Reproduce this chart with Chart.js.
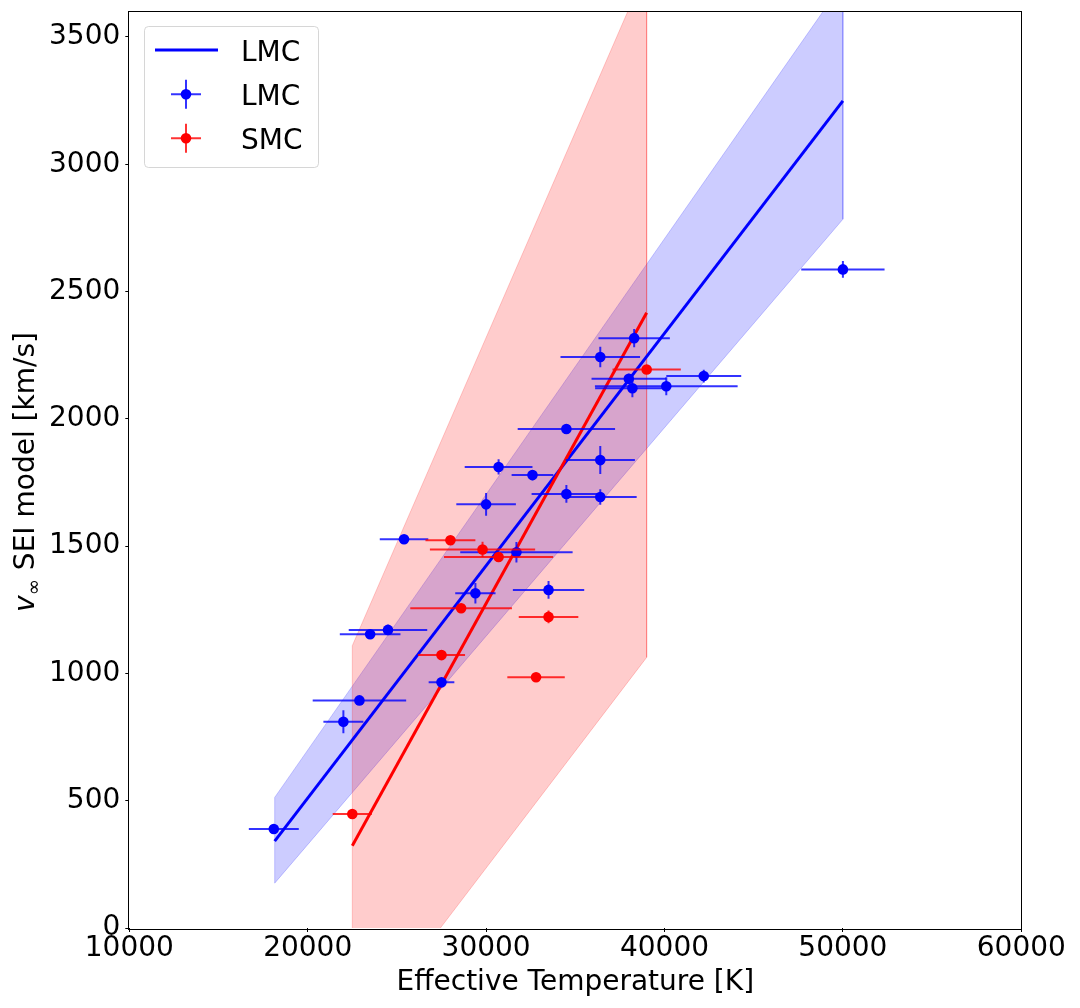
<!DOCTYPE html>
<html>
<head>
<meta charset="utf-8">
<script src="https://cdn.jsdelivr.net/npm/chart.js@4.4.1/dist/chart.umd.min.js"></script>
<style>
  html, body { margin: 0; padding: 0; background: #fff; }
  #wrap { width: 1080px; height: 1008px; position: relative; }
</style>
</head>
<body>
<div id="wrap"><canvas id="vinfChart"></canvas></div>
<script>
// LMC stars: Teff [K], v_inf [km/s] and their errors
var lmcTemp    = [18100, 22000, 22900, 23500, 24500, 25400, 27500, 29400, 30000, 30700, 31700, 32600,
                  33500, 34500, 34500, 36400, 36400, 36400, 38000, 38200, 38300, 40100, 42200, 50000];
var lmcVinf    = [389, 810, 894, 1154, 1171, 1527, 965, 1315, 1664, 1811, 1476, 1779,
                  1328, 1960, 1705, 2243, 1838, 1693, 2157, 2120, 2317, 2128, 2168, 2587];
var lmcTempErr = [1400, 1120, 2620, 1700, 2200, 1360, 720, 1130, 1670, 1900, 3150, 1170,
                  2000, 2730, 1950, 2230, 1940, 2040, 2090, 2090, 2000, 4000, 2100, 2335];
var lmcVinfErr = [15, 45, 15, 15, 20, 15, 15, 40, 45, 30, 40, 20,
                  35, 20, 35, 40, 55, 30, 20, 35, 36, 35, 25, 33];

// SMC stars
var smcTemp    = [22500, 27500, 28000, 28600, 29800, 30700, 32800, 33500, 39000];
var smcVinf    = [448, 1072, 1523, 1256, 1487, 1457, 985, 1222, 2194];
var smcTempErr = [1100, 1320, 1400, 2850, 2950, 3060, 1610, 1670, 1915];
var smcVinfErr = [15, 15, 15, 15, 30, 15, 15, 25, 15];

// linear fits and their uncertainty bands
var lmcFitTemp   = [18150, 50000];
var lmcFitVinf   = [341, 3249];
var lmcBandUpper = [513, 3712];
var lmcBandLower = [176, 2784];
var smcFitTemp   = [22500, 39000];
var smcFitVinf   = [323, 2417];
var smcBandUpper = [1109, 3771];
var smcBandLower = [-454, 1063];

var xTicks = [10000, 20000, 30000, 40000, 50000, 60000];
var yTicks = [0, 500, 1000, 1500, 2000, 2500, 3000, 3500];
var legendLabels = ['LMC', 'LMC', 'SMC'];

var FONT = '"DejaVu Sans", sans-serif';

function toPoints(xs, ys) {
  return xs.map(function(x, i) { return {x: x, y: ys[i]}; });
}
function bandPolygon(xs, upper, lower) {
  var top = toPoints(xs, upper);
  var bottom = toPoints(xs, lower).reverse();
  return top.concat(bottom, [top[0]]);
}

var errorBarPlugin = {
  id: 'errorBars',
  beforeDatasetDraw: function(chart, args) {
    var ds = chart.data.datasets[args.index];
    if (!ds.errX) return;
    var ctx = chart.ctx, xs = chart.scales.x, ys = chart.scales.y;
    ctx.save();
    ctx.strokeStyle = ds.errColor;
    ctx.lineWidth = 2;
    ds.data.forEach(function(p, i) {
      var px = xs.getPixelForValue(p.x), py = ys.getPixelForValue(p.y);
      ctx.beginPath();
      ctx.moveTo(xs.getPixelForValue(p.x - ds.errX[i]), py);
      ctx.lineTo(xs.getPixelForValue(p.x + ds.errX[i]), py);
      ctx.moveTo(px, ys.getPixelForValue(p.y - ds.errY[i]));
      ctx.lineTo(px, ys.getPixelForValue(p.y + ds.errY[i]));
      ctx.stroke();
    });
    ctx.restore();
  }
};

var framePlugin = {
  id: 'frameAndLabels',
  afterDraw: function(chart) {
    var ctx = chart.ctx, a = chart.chartArea;
    ctx.save();
    // axes box
    ctx.strokeStyle = '#000';
    ctx.lineWidth = 1;
    ctx.strokeRect(Math.round(a.left) - 0.5, Math.round(a.top) - 0.5,
                   Math.round(a.right - a.left) + 1, Math.round(a.bottom - a.top) + 1);

    // y axis title with italic v and subscript infinity
    ctx.translate(33.5, 472);
    ctx.rotate(-Math.PI / 2);
    ctx.fillStyle = '#000';
    ctx.textBaseline = 'alphabetic';
    ctx.textAlign = 'left';
    var fIt = 'oblique 28px ' + FONT, fSub = '19.6px ' + FONT, fMain = '28px ' + FONT;
    var rest = ' SEI model [km/s]';
    ctx.font = fIt;  var wV = ctx.measureText('v').width;
    ctx.font = fSub; var wS = ctx.measureText('\u221e').width;
    ctx.font = fMain; var wR = ctx.measureText(rest).width;
    var x0 = -(wV + wS + wR) / 2;
    ctx.font = fIt;  ctx.fillText('v', x0, 0);
    ctx.font = fSub; ctx.fillText('\u221e', x0 + wV, 6.2);
    ctx.font = fMain; ctx.fillText(rest, x0 + wV + wS, 0);
    ctx.restore();

    // legend
    ctx.save();
    ctx.beginPath();
    ctx.roundRect(144.5, 26.5, 174, 141, 4);
    ctx.fillStyle = 'rgba(255,255,255,0.8)';
    ctx.fill();
    ctx.strokeStyle = 'rgba(204,204,204,0.8)';
    ctx.lineWidth = 1;
    ctx.stroke();

    ctx.strokeStyle = '#0000ff';
    ctx.lineWidth = 3;
    ctx.beginPath();
    ctx.moveTo(155, 50);
    ctx.lineTo(218, 50);
    ctx.stroke();

    var rows = [{y: 94.3, c: '#0000ff', e: 'rgba(0,0,255,0.8)'},
                {y: 138.3, c: '#ff0000', e: 'rgba(255,0,0,0.8)'}];
    rows.forEach(function(r) {
      ctx.strokeStyle = r.e;
      ctx.lineWidth = 2;
      ctx.beginPath();
      ctx.moveTo(171, r.y); ctx.lineTo(201, r.y);
      ctx.moveTo(186, r.y - 14.5); ctx.lineTo(186, r.y + 14.5);
      ctx.stroke();
      ctx.fillStyle = r.c;
      ctx.beginPath();
      ctx.arc(186, r.y, 5.3, 0, Math.PI * 2);
      ctx.fill();
    });

    ctx.fillStyle = '#000';
    ctx.font = '28px ' + FONT;
    ctx.textBaseline = 'alphabetic';
    ctx.textAlign = 'left';
    var baselines = [61, 104.5, 148.5];
    legendLabels.forEach(function(t, i) { ctx.fillText(t, 241, baselines[i]); });
    ctx.restore();
  }
};

var ctx = document.getElementById('vinfChart').getContext('2d');

var chart = new Chart(ctx, {
  type: 'scatter',
  data: {
    datasets: [{
      label: 'LMC band',
      data: bandPolygon(lmcFitTemp, lmcBandUpper, lmcBandLower),
      showLine: true,
      fill: 'shape',
      backgroundColor: 'rgba(0,0,255,0.2)',
      borderColor: 'rgba(0,0,255,0.2)',
      borderWidth: 1,
      pointRadius: 0,
      clip: 0,
      order: 6
    }, {
      label: 'SMC band',
      data: bandPolygon(smcFitTemp, smcBandUpper, smcBandLower),
      showLine: true,
      fill: 'shape',
      backgroundColor: 'rgba(255,0,0,0.2)',
      borderColor: 'rgba(255,0,0,0.2)',
      borderWidth: 1,
      pointRadius: 0,
      clip: 0,
      order: 5
    }, {
      label: 'LMC',
      data: toPoints(lmcFitTemp, lmcFitVinf),
      showLine: true,
      borderColor: '#0000ff',
      borderWidth: 3,
      pointRadius: 0,
      clip: 0,
      order: 4
    }, {
      label: 'SMC fit',
      data: toPoints(smcFitTemp, smcFitVinf),
      showLine: true,
      borderColor: '#ff0000',
      borderWidth: 3,
      pointRadius: 0,
      clip: 0,
      order: 3
    }, {
      label: 'LMC',
      data: toPoints(lmcTemp, lmcVinf),
      errX: lmcTempErr,
      errY: lmcVinfErr,
      errColor: 'rgba(0,0,255,0.8)',
      backgroundColor: '#0000ff',
      borderWidth: 0,
      pointRadius: 5.3,
      order: 2
    }, {
      label: 'SMC',
      data: toPoints(smcTemp, smcVinf),
      errX: smcTempErr,
      errY: smcVinfErr,
      errColor: 'rgba(255,0,0,0.8)',
      backgroundColor: '#ff0000',
      borderWidth: 0,
      pointRadius: 5.3,
      order: 1
    }]
  },
  options: {
    responsive: true,
    maintainAspectRatio: false,
    animation: false,
    layout: {
      padding: {left: 0, right: 58.7, top: 11.5, bottom: 0}
    },
    plugins: {
      legend: {display: false},
      tooltip: {enabled: false}
    },
    scales: {
      x: {
        type: 'linear',
        min: 10000,
        max: 60000,
        afterBuildTicks: function(scale) {
          scale.ticks = xTicks.map(function(v) { return {value: v}; });
        },
        afterFit: function(scale) {
          scale.height = 80;
          scale.paddingLeft = 0;
          scale.paddingRight = 0;
        },
        grid: {drawOnChartArea: false, drawTicks: true, tickLength: 4, color: '#000'},
        border: {display: false},
        ticks: {
          color: '#000',
          padding: 3,
          maxRotation: 0,
          font: {family: FONT, size: 28, lineHeight: 1},
          callback: function(v) { return String(v); }
        },
        title: {
          display: true,
          text: 'Effective Temperature [K]',
          color: '#000',
          font: {family: FONT, size: 28, lineHeight: 1.2},
          padding: {top: 0, bottom: 8.5}
        }
      },
      y: {
        type: 'linear',
        min: 0,
        max: 3600,
        afterBuildTicks: function(scale) {
          scale.ticks = yTicks.map(function(v) { return {value: v}; });
        },
        afterFit: function(scale) {
          scale.width = 129.3;
          scale.paddingTop = 0;
          scale.paddingBottom = 0;
        },
        grid: {drawOnChartArea: false, drawTicks: true, tickLength: 4, color: '#000'},
        border: {display: false},
        ticks: {
          color: '#000',
          padding: 5,
          font: {family: FONT, size: 28, lineHeight: 1},
          callback: function(v) { return String(v); }
        }
      }
    }
  },
  plugins: [errorBarPlugin, framePlugin]
});
</script>
</body>
</html>
